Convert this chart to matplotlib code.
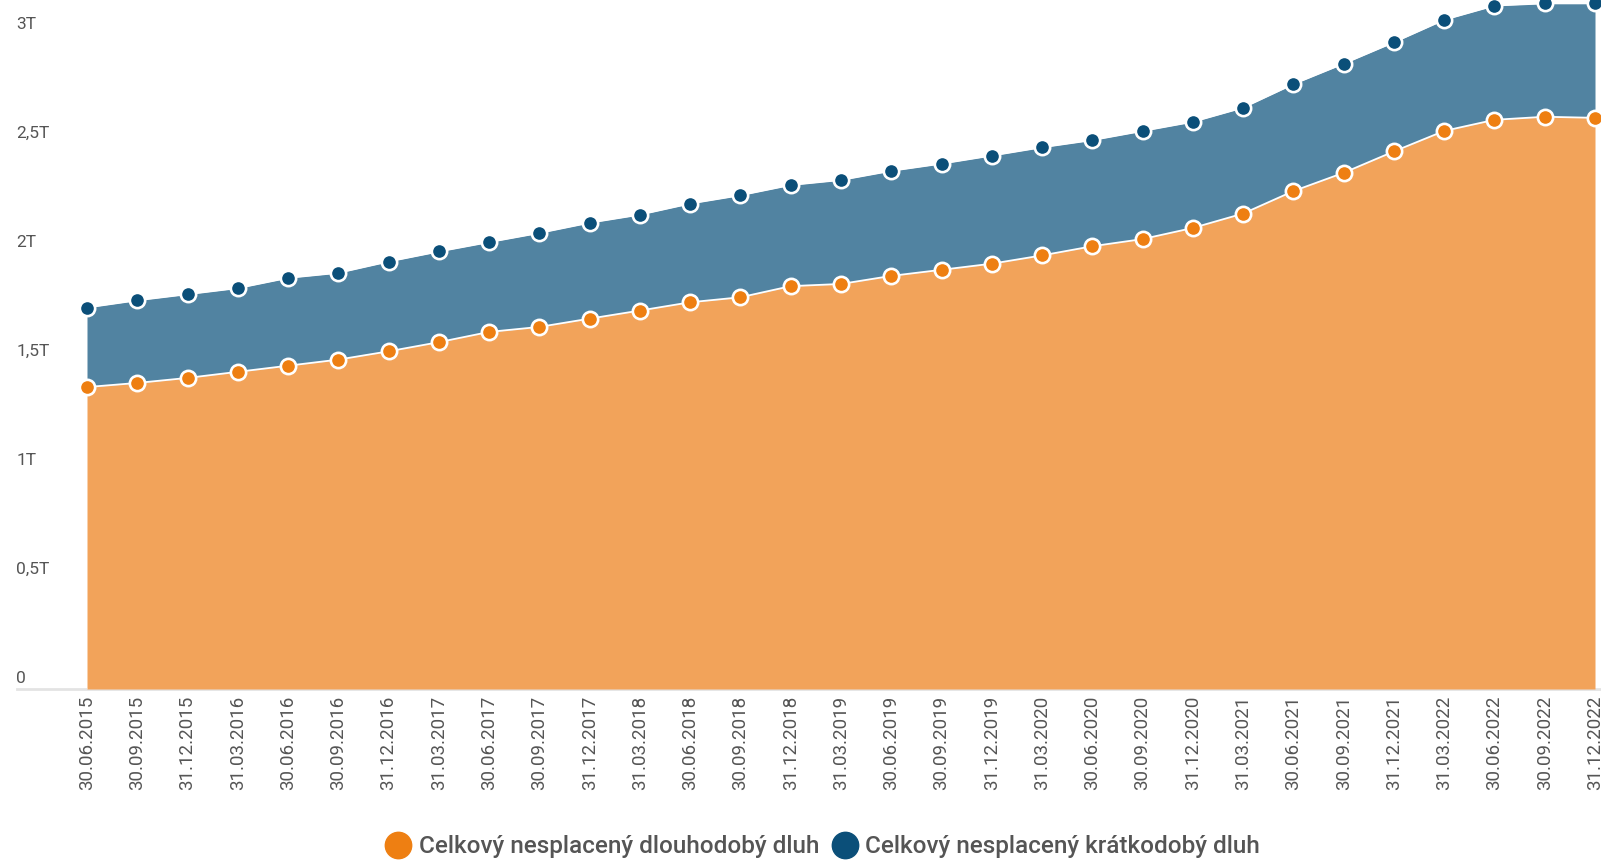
import matplotlib
matplotlib.use("Agg")
import matplotlib.pyplot as plt
from matplotlib.lines import Line2D
from matplotlib import font_manager

# quarterly dates
dates = ["30.06.2015", "30.09.2015", "31.12.2015", "31.03.2016", "30.06.2016",
         "30.09.2016", "31.12.2016", "31.03.2017", "30.06.2017", "30.09.2017",
         "31.12.2017", "31.03.2018", "30.06.2018", "30.09.2018", "31.12.2018",
         "31.03.2019", "30.06.2019", "30.09.2019", "31.12.2019", "31.03.2020",
         "30.06.2020", "30.09.2020", "31.12.2020", "31.03.2021", "30.06.2021",
         "30.09.2021", "31.12.2021", "31.03.2022", "30.06.2022", "30.09.2022",
         "31.12.2022"]

# long-term debt (T)
long_term = [1.385, 1.404, 1.427, 1.455, 1.483, 1.511, 1.549, 1.591, 1.638, 1.661,
             1.699, 1.736, 1.774, 1.797, 1.848, 1.858, 1.895, 1.923, 1.951, 1.989,
             2.031, 2.064, 2.115, 2.181, 2.284, 2.368, 2.466, 2.560, 2.611, 2.625,
             2.620]

# short-term debt (T), stacked on top of long-term
short_term = [0.365, 0.379, 0.384, 0.384, 0.403, 0.398, 0.412, 0.416, 0.412, 0.431,
              0.440, 0.440, 0.453, 0.468, 0.464, 0.477, 0.482, 0.487, 0.496, 0.496,
              0.487, 0.496, 0.487, 0.486, 0.491, 0.501, 0.501, 0.510, 0.524, 0.520,
              0.525]

y_ticks = [0, 0.5, 1, 1.5, 2, 2.5, 3]
y_labels = ["0", "0,5T", "1T", "1,5T", "2T", "2,5T", "3T"]

series_names = ["Celkový nesplacený dlouhodobý dluh", "Celkový nesplacený krátkodobý dluh"]

orange_fill = "#F2A35A"
orange_dot = "#EE7F12"
blue_fill = "#5183A1"
blue_dot = "#0B4F79"
text_grey = "#555555"

names = {f.name for f in font_manager.fontManager.ttflist}
plt.rcParams["font.family"] = ["Roboto" if "Roboto" in names else "DejaVu Sans", "DejaVu Sans"]

W, H = 1601, 861
fig = plt.figure(figsize=(W / 100, H / 100), dpi=100)
base_y = 689
ax = fig.add_axes([87 / W, (H - base_y) / H, (1595 - 87) / W, base_y / H])

x = list(range(len(dates)))
top = [a + b for a, b in zip(long_term, short_term)]

ax.fill_between(x, 0, long_term, color=orange_fill, linewidth=0, zorder=1)
ax.fill_between(x, long_term, top, color=blue_fill, linewidth=0, zorder=1)
ax.plot(x, long_term, color="white", lw=1.3, zorder=2)
ax.plot(x, top, color="white", lw=1.3, zorder=2)
ax.plot(x, long_term, "o", ms=11, mfc=orange_dot, mec="white", mew=1.9, zorder=3, clip_on=False)
ax.plot(x, top, "o", ms=11, mfc=blue_dot, mec="white", mew=1.9, zorder=3, clip_on=False)

ax.set_xlim(0, len(dates) - 1)
ax.set_ylim(0, base_y / 218)

ax.set_xticks(x)
ax.set_xticklabels(dates, rotation=90, fontsize=13.5, color=text_grey)
ax.tick_params(axis="x", length=0, pad=5)

ax.set_yticks(y_ticks)
ax.set_yticklabels(y_labels, fontsize=12.5, color=text_grey)
ax.tick_params(axis="y", length=0, pad=51)
for lab in ax.get_yticklabels():
    lab.set_horizontalalignment("left")
    lab.set_verticalalignment("bottom")
    lab.set_transform(lab.get_transform() + matplotlib.transforms.ScaledTranslation(0, 2 / 72, fig.dpi_scale_trans))

for s in ax.spines.values():
    s.set_visible(False)

# baseline spanning from the labels to the right edge
fig.add_artist(Line2D([17 / W, 1], [(H - base_y) / H] * 2, transform=fig.transFigure,
                      color="#e3e3e3", lw=2, zorder=0))

handles = [Line2D([], [], ls="", marker="o", ms=19, mfc=orange_dot, mec=orange_dot),
           Line2D([], [], ls="", marker="o", ms=19, mfc=blue_dot, mec=blue_dot)]
leg = fig.legend(handles, series_names, loc="center", bbox_to_anchor=(823 / W, 1 - 847 / H),
                 ncol=2, frameon=False, fontsize=17.5, handletextpad=0.35, columnspacing=0.55,
                 handlelength=1.0)
for t in leg.get_texts():
    t.set_color(text_grey)
    t.set_fontweight("medium")

fig.savefig("out.png", dpi=100)
